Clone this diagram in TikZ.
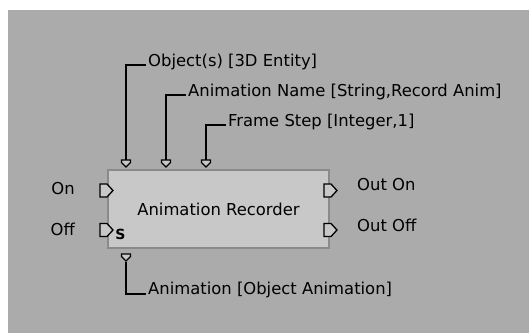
\documentclass[tikz,border=0pt]{standalone}
\usepackage{fontspec}
\setmainfont{DejaVu Sans}
\definecolor{panelgray}{HTML}{ABABAB}
\definecolor{boxgray}{HTML}{C8C8C8}
\definecolor{edgegray}{HTML}{8A8A8A}
\newcommand{\PortDown}[1]{\draw[portStyle, shift={(#1)}] (-4.5,0) -- (4.5,0) -- (4.5,2.5) -- (0,7) -- (-4.5,2.5) -- cycle;}
\newcommand{\PortRight}[1]{\draw[portStyle, shift={(#1)}] (0,-6.5) -- (7,-6.5) -- (13,0) -- (7,6.5) -- (0,6.5) -- cycle;}

\begin{document}
\begin{tikzpicture}[x = 1pt, y = -1pt]
	\tikzstyle{labelStyle} = [inner sep = 2pt, font = \fontsize{16.4}{19}\selectfont]
	\tikzstyle{blockStyle} = [draw = edgegray, fill = boxgray, line width = 1.5pt, minimum width = 221pt, minimum height = 78pt, inner sep = 0pt]
	\tikzstyle{portStyle} = [draw = black, fill = boxgray, line width = 1.3pt, line join = miter]
	\tikzstyle{wireStyle} = [draw = black, line width = 1.6pt]
	\useasboundingbox (0,0) rectangle (529,333);
	\fill[white] (0,0) rectangle (529,333);
	\fill[panelgray] (8,10) rectangle (529,333);
	\node[blockStyle, labelStyle] (rec) at (218.5,209) {Animation Recorder};
	\coordinate (objin) at (126,160);
	\coordinate (namein) at (166,160);
	\coordinate (stepin) at (206,160);
	\coordinate (animout) at (126,254);
	\coordinate (onin) at (100,190.5);
	\coordinate (offin) at (100,230);
	\coordinate (onout) at (324,190.5);
	\coordinate (offout) at (324,230);
	\PortDown{objin}
	\PortDown{namein}
	\PortDown{stepin}
	\PortDown{animout}
	\PortRight{onin}
	\PortRight{offin}
	\PortRight{onout}
	\PortRight{offout}
	\node[labelStyle, anchor = west] (objlbl) at (146,62) {Object(s) [3D Entity]};
	\node[labelStyle, anchor = west] (namelbl) at (186,92) {Animation Name [String,Record Anim]};
	\node[labelStyle, anchor = west] (steplbl) at (226,122) {Frame Step [Integer,1]};
	\node[labelStyle, anchor = west] (animlbl) at (146,290) {Animation [Object Animation]};
	\node[labelStyle, anchor = east] (onlbl) at (77,189) {On};
	\node[labelStyle, anchor = east] (offlbl) at (77,229) {Off};
	\node[labelStyle, anchor = west] (onoutlbl) at (355,185) {Out On};
	\node[labelStyle, anchor = west] (offoutlbl) at (355,225) {Out Off};
	\node[font = \fontsize{14}{15}\selectfont\bfseries, inner sep = 0pt] (slbl) at (120.5,234) {S};
	\draw[wireStyle] ([yshift = -3pt]objlbl.west) -| (objin);
	\draw[wireStyle] ([yshift = -3pt]namelbl.west) -| (namein);
	\draw[wireStyle] ([yshift = -3pt]steplbl.west) -| (stepin);
	\draw[wireStyle] ([yshift = -4pt]animlbl.west) -| ([yshift = -8pt]animout);
\end{tikzpicture}
\end{document}
